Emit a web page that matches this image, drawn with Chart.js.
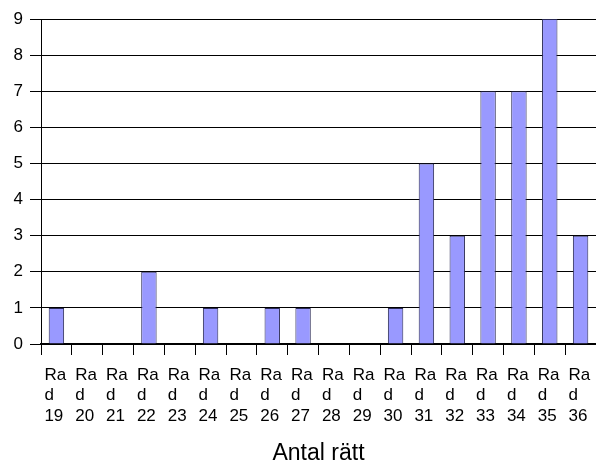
<!DOCTYPE html>
<html>
<head>
<meta charset="utf-8">
<script src="https://cdn.jsdelivr.net/npm/chart.js@4"></script>
<style>
  html, body { margin: 0; padding: 0; background: #fff; }
  #wrap { width: 596px; height: 463px; }
</style>
</head>
<body>
<div id="wrap"><canvas id="chart"></canvas></div>
<script>
// Rounds and count of correct answers
const rounds = [19, 20, 21, 22, 23, 24, 25, 26, 27, 28, 29, 30, 31, 32, 33, 34, 35, 36];
const counts = [1, 0, 0, 2, 0, 1, 0, 1, 1, 0, 0, 1, 5, 3, 7, 7, 9, 3];
const yTicks = [0, 1, 2, 3, 4, 5, 6, 7, 8, 9];
const axisTitle = 'Antal rätt';

// labels wrap as "Ra / d / 19" in the original
const labels = rounds.map(r => ['Ra', 'd', String(r)]);

const FONT = '"Liberation Sans", Arial, sans-serif';

document.addEventListener('DOMContentLoaded', () => {
    const ctx = document.getElementById('chart').getContext('2d');
    new Chart(ctx, {
        type: 'bar',
        data: {
            labels: labels,
            datasets: [{
                data: counts,
                backgroundColor: '#9999ff',
                borderColor: '#2a2a55',
                borderWidth: 1,
                categoryPercentage: 1,
                barPercentage: 0.5
            }]
        },
        options: {
            responsive: true,
            maintainAspectRatio: false,
            animation: false,
            layout: { padding: { top: 19, right: 0, bottom: 0, left: 0 } },
            plugins: {
                legend: { display: false },
                tooltip: { enabled: false }
            },
            scales: {
                x: {
                    offset: true,
                    grid: {
                        drawOnChartArea: false,
                        drawTicks: true,
                        tickLength: 11,
                        color: '#000',
                        offset: true
                    },
                    border: { color: '#000', width: 2 },
                    ticks: {
                        color: '#000',
                        font: { family: FONT, size: 17, lineHeight: 1.2 },
                        maxRotation: 0,
                        autoSkip: false,
                        align: 'start',
                        labelOffset: -12,
                        padding: 10
                    },
                    title: {
                        display: true,
                        text: axisTitle,
                        color: '#000',
                        font: { family: FONT, size: 23, lineHeight: 1 },
                        padding: { top: 10, bottom: -2 }
                    },
                    afterFit: s => {
                        s.height = 119;
                        s.paddingLeft = 0;
                        s.paddingRight = 0;
                    }
                },
                y: {
                    min: 0,
                    max: 9,
                    afterBuildTicks: s => { s.ticks = yTicks.map(v => ({ value: v })); },
                    grid: {
                        color: '#000',
                        lineWidth: 1,
                        tickLength: 11
                    },
                    border: { color: '#000', width: 1 },
                    ticks: {
                        color: '#000',
                        font: { family: FONT, size: 17 },
                        padding: 7
                    },
                    afterFit: s => { s.width = 41; }
                }
            }
        }
    });
});
</script>
</body>
</html>
